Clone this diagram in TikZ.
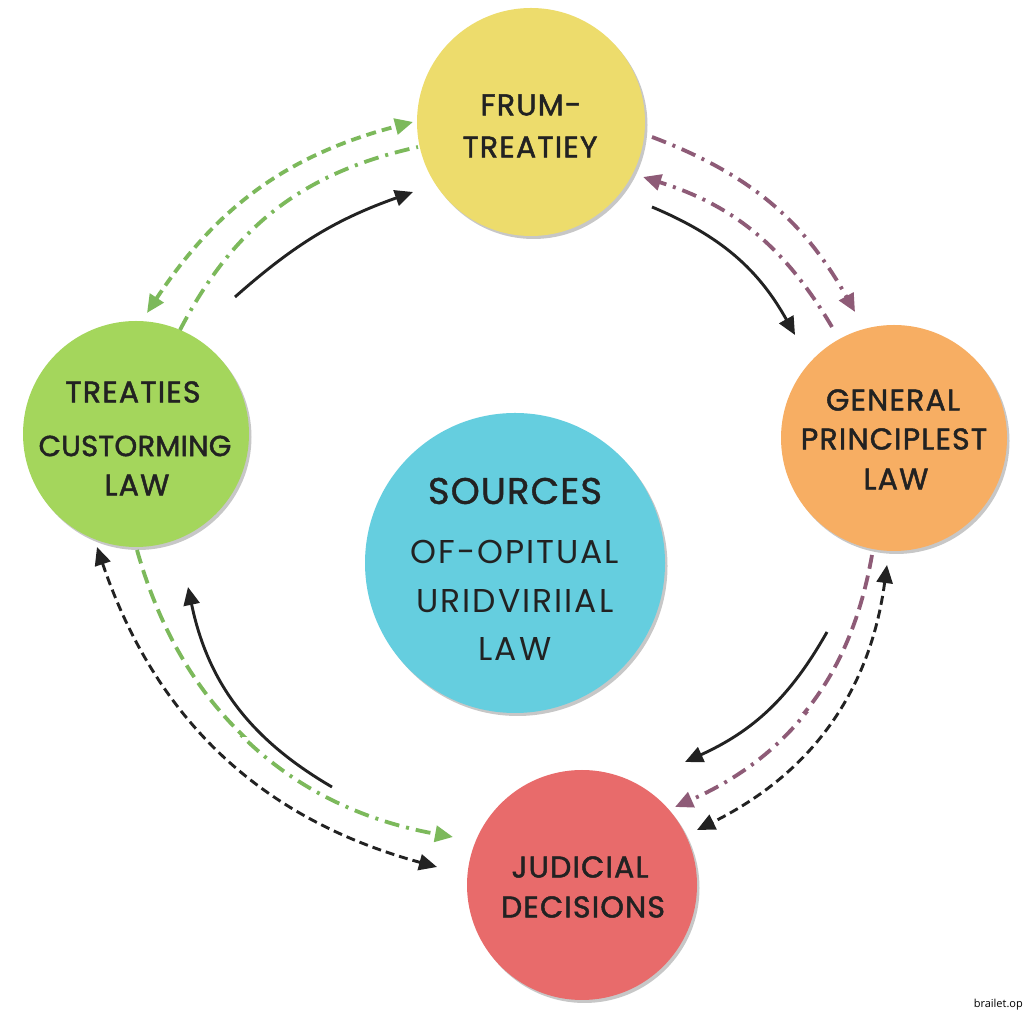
\documentclass[tikz,border=0pt]{standalone}
\usepackage{fontspec}
\setmainfont{Poppins}
\newfontfamily\psemi{Poppins}[FakeBold=1.6,LetterSpace=4]
\newfontfamily\psemit{Poppins}[FakeBold=1.6,LetterSpace=1]
\newfontfamily\pmed{Poppins}[FakeBold=1.0,LetterSpace=3]
\newfontfamily\preg{Poppins}[LetterSpace=6]
\newfontfamily\wmfont{Open Sans}
\usetikzlibrary{arrows.meta,shadows}
\definecolor{cyel}{HTML}{EDDC6C}
\definecolor{cgrn}{HTML}{A4D65C}
\definecolor{cora}{HTML}{F7AE63}
\definecolor{ccya}{HTML}{65CEDF}
\definecolor{cred}{HTML}{E86B6B}
\definecolor{agrn}{HTML}{7CB95B}
\definecolor{apur}{HTML}{8E5B77}
\definecolor{ablk}{HTML}{222222}
\begin{document}
\begin{tikzpicture}[x=1pt,y=1pt,
  circ/.style={circle, minimum size=#1, inner sep=0pt, draw=none,
    drop shadow={shadow xshift=2.5pt,shadow yshift=-3pt,opacity=0.22,fill=black}},
  otxt/.style={font=\psemi\fontsize{30}{34}\selectfont, text=ablk, inner sep=0pt},
  ctxt/.style={font=\preg\fontsize{33}{38}\selectfont, text=ablk, inner sep=0pt},
  stxt/.style={font=\pmed\fontsize{37}{42}\selectfont, text=ablk, inner sep=0pt},
  tip/.style={-{Triangle[length=18pt,width=16pt]}},
  dtip/.style={{Triangle[length=18pt,width=16pt]}-{Triangle[length=18pt,width=16pt]}},
  blk/.style={draw=ablk, line width=2.9pt},
  grn/.style={draw=agrn, line width=3.8pt, fill=none},
  pur/.style={draw=apur, line width=3.8pt},
  dsh/.style={dash pattern=on 9pt off 5pt},
  gdsh/.style={dash pattern=on 10pt off 6pt},
  ldsh/.style={dash pattern=on 14pt off 7pt},
  dd/.style={dash pattern=on 15pt off 7pt on 3pt off 7pt}
]
\fill[white] (0,0) rectangle (1024,1024);
\useasboundingbox (0,0) rectangle (1024,1024);

% circles
\node[circ=228, fill=cyel] (y) at (531,902) {};
\node[circ=226, fill=cgrn] (g) at (136,590) {};
\node[circ=226, fill=cora] (o) at (894,586) {};
\node[circ=300, fill=ccya] (c) at (515,461) {};
\node[circ=230, fill=cred] (r) at (582,139) {};

% texts
\node[otxt] (y1) at (531,919) {FRUM-};
\node[otxt] (y2) at (530,877) {TREATIEY};
\node[otxt] (g1) at (133,632) {TREATIES};
\node[otxt, font=\psemit\fontsize{29}{34}\selectfont] (g2) at (135,578) {CUSTORMING};
\node[otxt] (g3) at (137,539) {LAW};
\node[otxt] (o1) at (893,624) {GENERAL};
\node[otxt] (o2) at (894,585) {PRINCIPLEST};
\node[otxt] (o3) at (896,545) {LAW};
\node[stxt] (c1) at (515,533) {SOURCES};
\node[ctxt] (c2) at (515,472) {OF-OPITUAL};
\node[ctxt] (c3) at (515,423) {URIDVIRIIAL};
\node[ctxt] (c4) at (515,375) {LAW};
\node[otxt] (r1) at (580,157) {JUDICIAL};
\node[otxt] (r2) at (583,117) {DECISIONS};
\node[font=\wmfont\fontsize{11}{13}\selectfont, anchor=east, inner sep=0pt] (wm) at (1023,19) {brailet.op};

% connector end points
\coordinate (a1s) at (147,711); \coordinate (a1e) at (413,902);
\coordinate (a2s) at (180,694); \coordinate (a2e) at (418,877);
\coordinate (a3s) at (235,727); \coordinate (a3e) at (413,832);
\coordinate (b1s) at (652,887); \coordinate (b1e) at (855,712);
\coordinate (b2s) at (832,697); \coordinate (b2e) at (643,847);
\coordinate (b3s) at (652,817); \coordinate (b3e) at (795,689);
\coordinate (c1s) at (872,469); \coordinate (c1e) at (675,217);
\coordinate (c2s) at (827,392); \coordinate (c2e) at (685,262);
\coordinate (c3s) at (887,459); \coordinate (c3e) at (697,194);
\coordinate (d1s) at (97,477);  \coordinate (d1e) at (437,157);
\coordinate (d2s) at (137,474); \coordinate (d2e) at (453,187);
\coordinate (d3s) at (332,237); \coordinate (d3e) at (188,437);

% top-left
\draw[grn, gdsh, dtip, agrn] (a1s) to[bend left=21] (a1e);
\draw[grn, dd] (a2s) to[bend left=25] (a2e);
\draw[blk, tip] (a3s) to[bend left=11] (a3e);
% top-right
\draw[pur, dd, tip] (b1s) to[bend left=20] (b1e);
\draw[pur, dd, tip] (b2s) to[bend right=21] (b2e);
\draw[blk, tip] (b3s) to[bend left=19] (b3e);
% bottom-right
\begin{scope}
  \clip (600,311) rectangle (1024,1024);
  \draw[pur, ldsh] (c1s) to[bend left=28] (c1e);
\end{scope}
\begin{scope}
  \clip (600,0) rectangle (1024,311);
  \draw[pur, dd, tip] (c1s) to[bend left=28] (c1e);
\end{scope}
\draw[blk, tip] (c2s) to[bend left=18] (c2e);
\draw[blk, dsh, dtip] (c3s) to[bend left=28] (c3e);
% bottom-left
\draw[blk, dsh, dtip] (d1s) to[bend right=28] (d1e);
\begin{scope}
  \clip (0,287) rectangle (480,1024);
  \draw[grn, ldsh] (d2s) to[bend right=32] (d2e);
\end{scope}
\begin{scope}
  \clip (0,0) rectangle (480,287);
  \draw[grn, dd, tip, agrn] (d2s) to[bend right=32] (d2e);
\end{scope}
\draw[blk, tip] (d3s) to[bend left=24] (d3e);
\end{tikzpicture}
\end{document}
